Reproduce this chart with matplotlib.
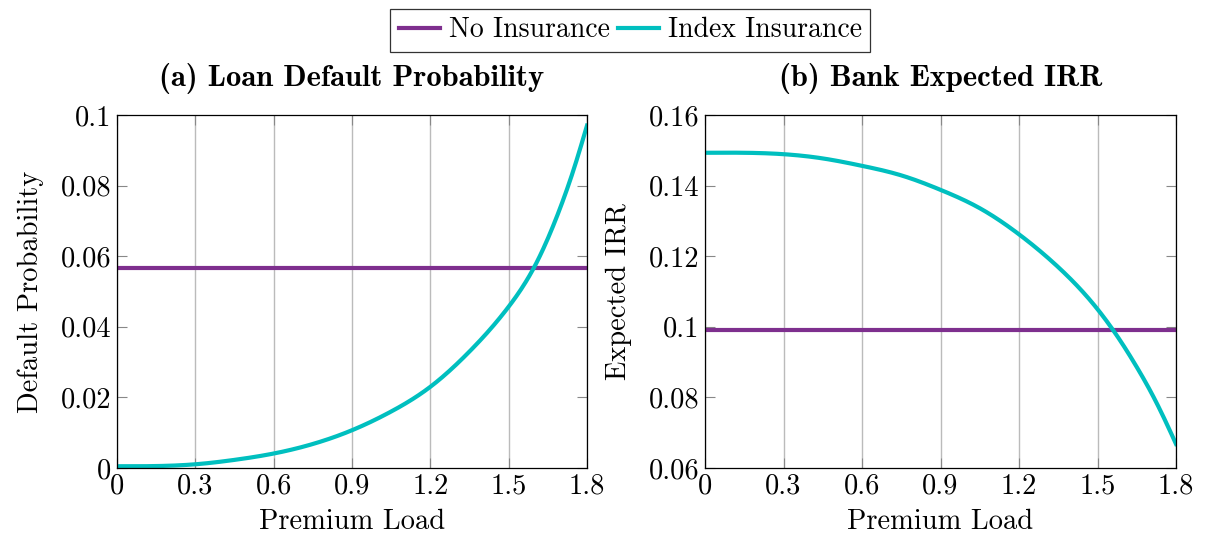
import numpy as np
import matplotlib
matplotlib.use("Agg")
import matplotlib.pyplot as plt

# Data
premium_load = [0.0, 0.15, 0.3, 0.45, 0.6, 0.75, 0.9, 1.05, 1.2, 1.35, 1.5, 1.6, 1.65, 1.7, 1.75, 1.8]
default_no_ins = [0.0567] * len(premium_load)
default_index = [0.0005, 0.00055, 0.00105, 0.0023, 0.0041, 0.0068, 0.0107, 0.0160, 0.0230, 0.0330,
                 0.0457, 0.0572, 0.0650, 0.0742, 0.0848, 0.0970]
irr_no_ins = [0.0992] * len(premium_load)
irr_index = [0.1493, 0.1493, 0.1489, 0.1477, 0.1456, 0.1429, 0.1388, 0.1336, 0.1262, 0.1169,
             0.1050, 0.0946, 0.0886, 0.0821, 0.0748, 0.0668]

xticks = [0, 0.3, 0.6, 0.9, 1.2, 1.5, 1.8]
xtick_labels = ["0", "0.3", "0.6", "0.9", "1.2", "1.5", "1.8"]
yticks_a = [0, 0.02, 0.04, 0.06, 0.08, 0.1]
ytick_labels_a = ["0", "0.02", "0.04", "0.06", "0.08", "0.1"]
yticks_b = [0.06, 0.08, 0.1, 0.12, 0.14, 0.16]
ytick_labels_b = ["0.06", "0.08", "0.1", "0.12", "0.14", "0.16"]

purple = "#7E2F8E"
cyan = "#00BFBF"

plt.rcParams['font.family'] = ['cmr10', 'DejaVu Serif']
plt.rcParams['axes.formatter.use_mathtext'] = True
plt.rcParams['mathtext.fontset'] = 'cm'

fs = 20.5
fig = plt.figure(figsize=(12.05, 5.39), dpi=100)
W, H = 1205, 539
ax1 = fig.add_axes([117 / W, (H - 468) / H, 470 / W, 353 / H])
ax2 = fig.add_axes([705 / W, (H - 468) / H, 471 / W, 353 / H])


def smooth(x, y, n=400):
    """Natural cubic spline through the read points (for drawing only)."""
    x = np.asarray(x, float); y = np.asarray(y, float)
    nn = len(x); h = np.diff(x)
    A = np.zeros((nn, nn)); b = np.zeros(nn)
    A[0, 0] = 1; A[-1, -1] = 1
    for i in range(1, nn - 1):
        A[i, i - 1] = h[i - 1]; A[i, i] = 2 * (h[i - 1] + h[i]); A[i, i + 1] = h[i]
        b[i] = 6 * ((y[i + 1] - y[i]) / h[i] - (y[i] - y[i - 1]) / h[i - 1])
    M = np.linalg.solve(A, b)
    xs = np.linspace(x[0], x[-1], n)
    idx = np.clip(np.searchsorted(x, xs) - 1, 0, nn - 2)
    hi = h[idx]; t1 = x[idx + 1] - xs; t0 = xs - x[idx]
    ys = (M[idx] * t1**3 + M[idx + 1] * t0**3) / (6 * hi) \
        + (y[idx] / hi - M[idx] * hi / 6) * t1 + (y[idx + 1] / hi - M[idx + 1] * hi / 6) * t0
    return xs, ys


for ax, yn, yi, yt, ytl, ylim, title, ylabel in [
    (ax1, default_no_ins, default_index, yticks_a, ytick_labels_a, (0, 0.1),
     "(a) Loan Default Probability", "Default Probability"),
    (ax2, irr_no_ins, irr_index, yticks_b, ytick_labels_b, (0.06, 0.16),
     "(b) Bank Expected IRR", "Expected IRR"),
]:
    l1, = ax.plot(premium_load, yn, color=purple, lw=3, label="No Insurance")
    xs, ys = smooth(premium_load, yi)
    l2, = ax.plot(xs, ys, color=cyan, lw=3, label="Index Insurance")
    ax.set_xlim(0, 1.8)
    ax.set_ylim(*ylim)
    ax.set_xticks(xticks)
    ax.set_xticklabels(xtick_labels)
    ax.set_yticks(yt)
    ax.set_yticklabels(ytl)
    ax.grid(axis='x', color='#BBBBBB', lw=1)
    ax.tick_params(direction='in', length=7, width=0.8, color='#888888',
                   labelsize=fs, top=True, right=True, pad=4)
    ax.set_xlabel("Premium Load", fontsize=fs, labelpad=6)
    ax.set_ylabel(ylabel, fontsize=fs, labelpad=12)
    ax.set_title(title, fontsize=22, family=['cmb10', 'DejaVu Serif'], pad=21)
    for s in ax.spines.values():
        s.set_linewidth(0.9)

leg = fig.legend(handles=[l1, l2], loc='upper center', bbox_to_anchor=(0.523, 0.984), ncol=2,
                 fontsize=20, frameon=True, fancybox=False, edgecolor='black',
                 handlelength=1.5, handletextpad=0.3, columnspacing=0.3, borderpad=0.3,
                 borderaxespad=0)
leg.get_frame().set_linewidth(0.9)

fig.savefig("out.png", dpi=100)
